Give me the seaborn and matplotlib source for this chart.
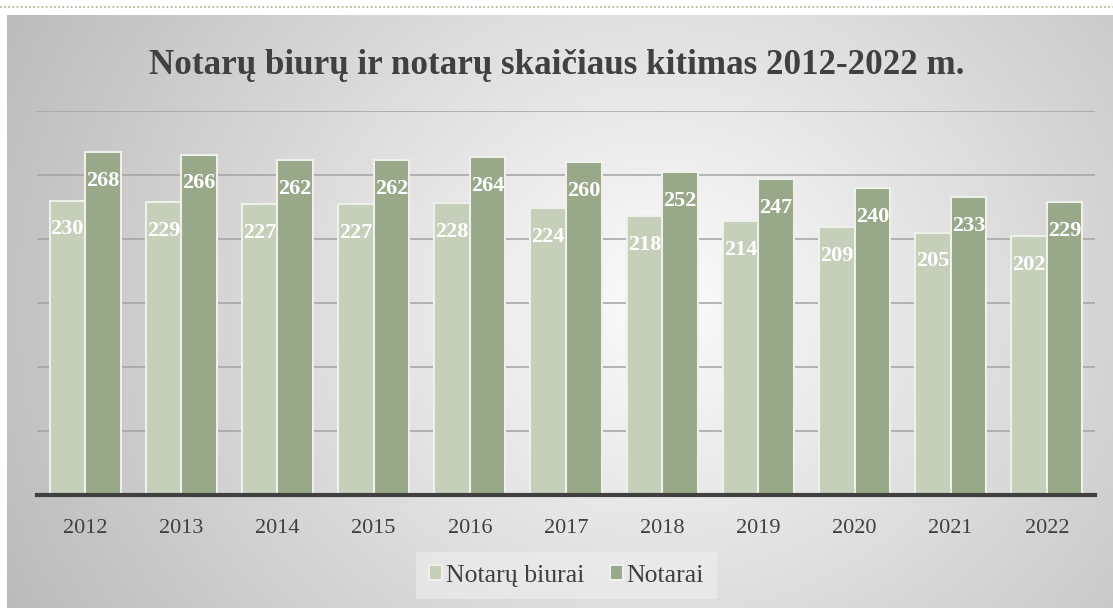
import matplotlib
matplotlib.use("Agg")
import matplotlib.pyplot as plt
import numpy as np
import pandas as pd
import seaborn as sns

years = ["2012", "2013", "2014", "2015", "2016", "2017", "2018", "2019", "2020", "2021", "2022"]
biurai = [230, 229, 227, 227, 228, 224, 218, 214, 209, 205, 202]
notarai = [268, 266, 262, 262, 264, 260, 252, 247, 240, 233, 229]
series = ["Notarų biurai", "Notarai"]

df = pd.DataFrame({
    "metai": years * 2,
    "reiksme": biurai + notarai,
    "serija": [series[0]] * len(years) + [series[1]] * len(years),
})

sns.set_theme(style="white")
plt.rcParams["font.family"] = ["Liberation Serif", "DejaVu Serif"]

W, H = 1113, 608
fig = plt.figure(figsize=(W / 100, H / 100), dpi=100)
fig.patch.set_facecolor("white")

# radial grey background panel
bg = fig.add_axes([0, 0, 1, 1], zorder=-5)
yy, xx = np.mgrid[0:H, 0:W]
d = np.sqrt(((xx - 660) / 1.0) ** 2 + ((yy - 300) / 0.9) ** 2)
shade = 252 - 62 * np.clip(d / 700, 0, 1.1)
img = np.ones((H, W, 3))
img[15:, 7:, :] = (shade[15:, 7:, None] / 255.0)
bg.imshow(img, aspect="auto", extent=(0, W, H, 0))
bg.plot([0, W], [7, 7], linestyle=(0, (1, 1.5)), color="#9fb18a", lw=1.2)
bg.set_xlim(0, W)
bg.set_ylim(H, 0)
bg.axis("off")

ax = fig.add_axes([37 / W, 113 / H, 1058 / W, 384 / H])
ax.patch.set_alpha(0)
sns.barplot(data=df, x="metai", y="reiksme", hue="serija", ax=ax,
            palette=["#c5cfba", "#99a889"], width=0.74,
            edgecolor="#eef0ea", linewidth=1.5, saturation=1, zorder=3)

for cont in ax.containers:
    ax.bar_label(cont, padding=-28, color="white", fontsize=16,
                 fontweight="bold", zorder=5)

ax.set_ylim(0, 300)
ax.set_xlim(-0.5, len(years) - 0.5)
ax.set_yticks([50, 100, 150, 200, 250, 300])
ax.yaxis.grid(True, color="#a3a3a3", lw=1.1, zorder=0)
ax.set_axisbelow(True)
ax.tick_params(axis="y", left=False, labelleft=False)
ax.tick_params(axis="x", bottom=False, labelsize=16, labelcolor="#404040", pad=11)
ax.set_xlabel("")
ax.set_ylabel("")
for s in ["top", "right", "left"]:
    ax.spines[s].set_visible(False)
ax.spines["bottom"].set_color("#404040")
ax.spines["bottom"].set_linewidth(3)
ax.spines["bottom"].set_zorder(6)

handles, labels = ax.get_legend_handles_labels()
ax.legend(handles, labels, loc="center", bbox_to_anchor=(0.5005, -0.21), ncol=2,
          frameon=True, facecolor="#efefef", edgecolor="none", framealpha=0.6,
          fontsize=18.5, labelcolor="#404040", handlelength=0.5, handleheight=0.5,
          handletextpad=0.15, columnspacing=1.0, borderpad=0.5, fancybox=False)

fig.text(0.5, 1 - 65 / H, "Notarų biurų ir notarų skaičiaus kitimas 2012-2022 m.",
         ha="center", va="center", fontsize=25.2, fontweight="bold", color="#404040")

fig.savefig("out.png", dpi=100)
